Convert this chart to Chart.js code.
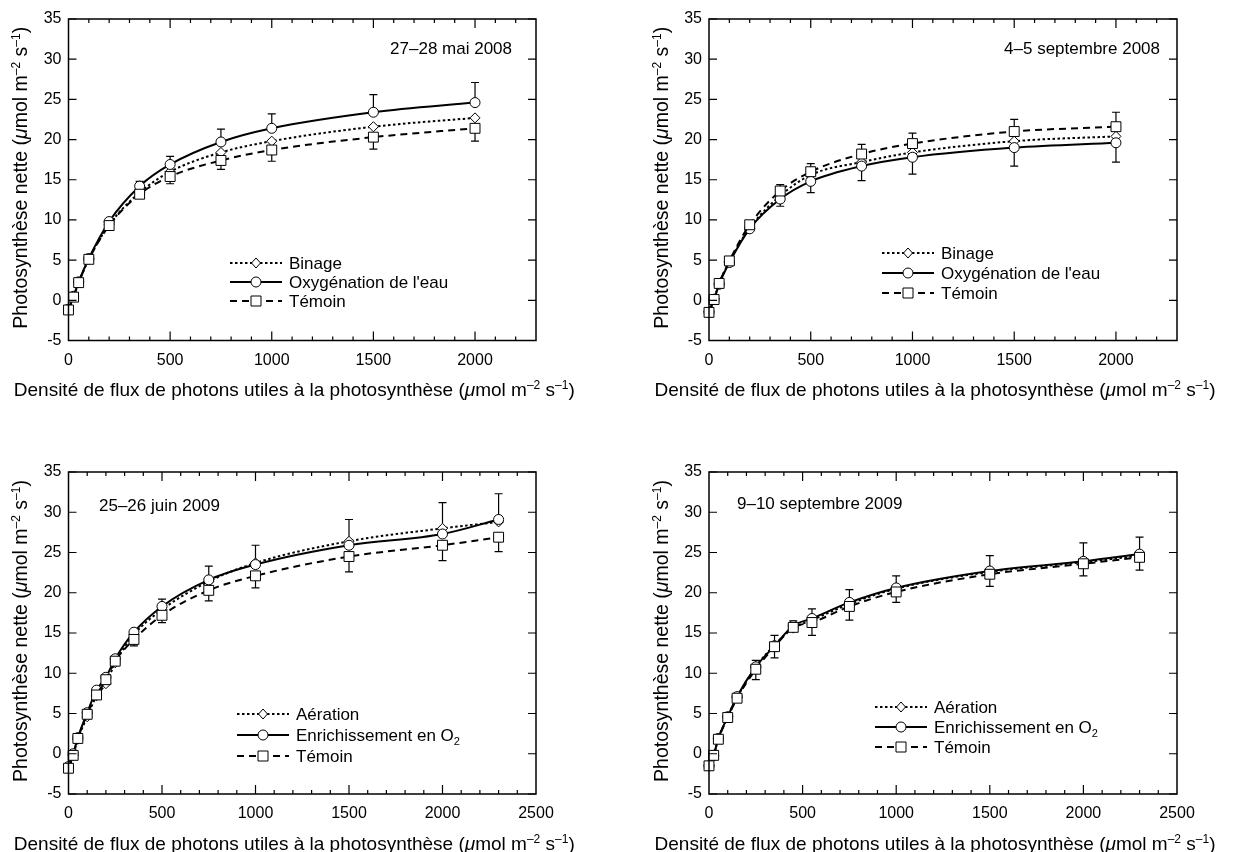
<!DOCTYPE html>
<html>
<head>
<meta charset="utf-8">
<script src="https://cdn.jsdelivr.net/npm/chart.js@4"></script>
<style>
  body { margin: 0; background: #fff; }
  canvas { position: absolute; }
</style>
</head>
<body>
<canvas id="c1" width="622" height="426" style="left:0;top:0"></canvas>
<canvas id="c2" width="622" height="426" style="left:622px;top:0"></canvas>
<canvas id="c3" width="622" height="426" style="left:0;top:426px"></canvas>
<canvas id="c4" width="622" height="426" style="left:622px;top:426px"></canvas>
<script>
// 27-28 mai 2008
const xMai08 = [0, 25, 50, 100, 200, 350, 500, 750, 1000, 1500, 2000];
const binageMai08 = [-1.2, 0.4, 2.2, 5.1, 9.4, 13.4, 16.0, 18.4, 19.8, 21.6, 22.7];
const oxyMai08 = [-1.1, 0.5, 2.3, 5.2, 9.8, 14.2, 16.9, 19.7, 21.4, 23.4, 24.6];
const temoinMai08 = [-1.2, 0.4, 2.2, 5.1, 9.3, 13.2, 15.4, 17.4, 18.7, 20.3, 21.4];
const oxyErrMai08 = [null, null, null, null, null, 0.6, 1.0, 1.6, 1.8, 2.2, 2.5];
const temoinErrMai08 = [null, null, null, null, null, null, 0.9, 1.1, 1.4, 1.5, 1.6];

// 4-5 septembre 2008
const xSep08 = [0, 25, 50, 100, 200, 350, 500, 750, 1000, 1500, 2000];
const binageSep08 = [-1.4, 0.2, 2.1, 4.8, 9.0, 13.0, 15.6, 17.2, 18.4, 19.8, 20.4];
const oxySep08 = [-1.5, 0.1, 2.0, 4.7, 8.9, 12.6, 14.8, 16.7, 17.8, 19.0, 19.6];
const temoinSep08 = [-1.5, 0.1, 2.1, 4.9, 9.4, 13.6, 16.0, 18.2, 19.5, 21.0, 21.6];
const oxyErrSep08 = [null, null, null, null, null, 0.9, 1.4, 1.8, 2.1, 2.3, 2.4];
const temoinErrSep08 = [null, null, null, null, null, 0.8, 1.0, 1.2, 1.3, 1.5, 1.8];

// 25-26 juin 2009
const xJun09 = [0, 25, 50, 100, 150, 200, 250, 350, 500, 750, 1000, 1500, 2000, 2300];
const aerationJun09 = [-1.7, -0.2, 1.8, 4.6, 7.2, 8.7, 11.3, 14.8, 17.9, 21.4, 23.7, 26.4, 28.0, 28.8];
const enrichJun09 = [-1.6, 0.0, 2.0, 5.1, 7.9, 9.5, 11.8, 15.1, 18.3, 21.6, 23.5, 25.9, 27.3, 29.1];
const temoinJun09 = [-1.8, -0.2, 1.9, 4.9, 7.3, 9.2, 11.5, 14.2, 17.2, 20.3, 22.1, 24.5, 25.9, 26.9];
const enrichErrJun09 = [null, null, null, null, null, null, null, null, 0.9, 1.7, 2.4, 3.2, 3.9, 3.2];
const temoinErrJun09 = [null, null, null, null, null, null, null, 0.8, 0.9, 1.3, 1.5, 1.9, 1.9, 1.8];

// 9-10 septembre 2009
const xSep09 = [0, 25, 50, 100, 150, 250, 350, 450, 550, 750, 1000, 1500, 2000, 2300];
const aerationSep09 = [-1.5, -0.2, 1.9, 4.6, 7.0, 10.8, 13.5, 15.6, 16.6, 18.6, 20.5, 22.6, 23.8, 24.6];
const enrichSep09 = [-1.5, -0.2, 1.9, 4.6, 7.1, 10.8, 13.4, 15.9, 16.8, 18.8, 20.6, 22.7, 23.9, 24.8];
const temoinSep09 = [-1.5, -0.2, 1.8, 4.5, 6.9, 10.5, 13.3, 15.7, 16.3, 18.3, 20.1, 22.3, 23.6, 24.4];
const enrichErrSep09 = [null, null, null, null, null, 0.8, 1.3, 0.6, 1.2, 1.6, 1.5, 1.9, 2.3, 2.1];
const temoinErrSep09 = [null, null, null, null, null, 1.3, 1.4, null, 1.6, 1.7, 1.3, 1.5, 1.5, 1.6];

// graduations
const xTicks2008 = [0, 500, 1000, 1500, 2000];
const xTicks2009 = [0, 500, 1000, 1500, 2000, 2500];
const yTicks = [-5, 0, 5, 10, 15, 20, 25, 30, 35];

const FONT = '"Liberation Sans", Arial, Helvetica, sans-serif';
Chart.defaults.font.family = FONT;
Chart.defaults.color = '#000';

// styles des trois traitements
const dotted = { dash: [2.5, 2.5], marker: 'diamond' };
const solid = { dash: [], marker: 'circle' };
const dashed = { dash: [7, 5], marker: 'square' };

const yTitle = [['Photosynthèse nette ('], ['\u03bc', 'i'], ['mol m'], ['\u20132', 'sup'], [' s'], ['\u20131', 'sup'], [')']];
const xTitle = [['Densité de flux de photons utiles à la photosynthèse ('], ['\u03bc', 'i'], ['mol m'], ['\u20132', 'sup'], [' s'], ['\u20131', 'sup'], [')']];

const panels = [
  {
    id: 'c1', x: xMai08, xMax: 2300, xTicks: xTicks2008,
    series: [
      { name: [['Binage']], y: binageMai08, err: null, dir: 0, st: dotted },
      { name: [["Oxygénation de l'eau"]], y: oxyMai08, err: oxyErrMai08, dir: 1, st: solid },
      { name: [['Témoin']], y: temoinMai08, err: temoinErrMai08, dir: -1, st: dashed }
    ],
    date: '27–28 mai 2008', dateAlign: 'right', datePos: [512, 48],
    area: { l: 68.5, t: 19, r: 536, b: 340.5 }, legend: [230, 263, 19], yTitleX: 20
  },
  {
    id: 'c2', x: xSep08, xMax: 2300, xTicks: xTicks2008,
    series: [
      { name: [['Binage']], y: binageSep08, err: null, dir: 0, st: dotted },
      { name: [["Oxygénation de l'eau"]], y: oxySep08, err: oxyErrSep08, dir: -1, st: solid },
      { name: [['Témoin']], y: temoinSep08, err: temoinErrSep08, dir: 1, st: dashed }
    ],
    date: '4–5 septembre 2008', dateAlign: 'right', datePos: [538, 48],
    area: { l: 87, t: 19, r: 555, b: 340.5 }, legend: [260, 253, 20], yTitleX: 39
  },
  {
    id: 'c3', x: xJun09, xMax: 2500, xTicks: xTicks2009,
    series: [
      { name: [['Aération']], y: aerationJun09, err: null, dir: 0, st: dotted },
      { name: [['Enrichissement en O'], ['2', 'sub']], y: enrichJun09, err: enrichErrJun09, dir: 1, st: solid },
      { name: [['Témoin']], y: temoinJun09, err: temoinErrJun09, dir: -1, st: dashed }
    ],
    date: '25–26 juin 2009', dateAlign: 'left', datePos: [99, 79],
    area: { l: 68.5, t: 46, r: 536, b: 368 }, legend: [237, 288, 21], yTitleX: 20
  },
  {
    id: 'c4', x: xSep09, xMax: 2500, xTicks: xTicks2009,
    series: [
      { name: [['Aération']], y: aerationSep09, err: null, dir: 0, st: dotted },
      { name: [['Enrichissement en O'], ['2', 'sub']], y: enrichSep09, err: enrichErrSep09, dir: 1, st: solid },
      { name: [['Témoin']], y: temoinSep09, err: temoinErrSep09, dir: -1, st: dashed }
    ],
    date: '9–10 septembre 2009', dateAlign: 'left', datePos: [115, 77],
    area: { l: 87, t: 46, r: 555, b: 368 }, legend: [253, 281, 20], yTitleX: 39
  }
];

// texte avec exposants / indices / italique
function runFont(kind, size) {
  if (kind === 'sup' || kind === 'sub') return Math.round(size * 0.62) + 'px ' + FONT;
  if (kind === 'i') return 'italic ' + size + 'px ' + FONT;
  return size + 'px ' + FONT;
}
function richWidth(ctx, runs, size) {
  let w = 0;
  runs.forEach(r => { ctx.font = runFont(r[1], size); w += ctx.measureText(r[0]).width; });
  return w;
}
function drawRich(ctx, runs, x, y, size, align) {
  let cx = x;
  if (align === 'center') cx = x - richWidth(ctx, runs, size) / 2;
  if (align === 'right') cx = x - richWidth(ctx, runs, size);
  ctx.textBaseline = 'alphabetic';
  ctx.textAlign = 'left';
  const base = y + size * 0.36;
  runs.forEach(r => {
    ctx.font = runFont(r[1], size);
    let dy = 0;
    if (r[1] === 'sup') dy = -size * 0.38;
    if (r[1] === 'sub') dy = size * 0.22;
    ctx.fillText(r[0], cx, base + dy);
    cx += ctx.measureText(r[0]).width;
  });
}

function drawMarker(ctx, kind, x, y) {
  ctx.save();
  ctx.setLineDash([]);
  ctx.lineWidth = 1;
  ctx.fillStyle = '#fff';
  ctx.strokeStyle = '#000';
  ctx.beginPath();
  if (kind === 'square') ctx.rect(x - 5, y - 5, 10, 10);
  if (kind === 'circle') ctx.arc(x, y, 5, 0, Math.PI * 2);
  if (kind === 'diamond') { ctx.moveTo(x, y - 5); ctx.lineTo(x + 4.5, y); ctx.lineTo(x, y + 5); ctx.lineTo(x - 4.5, y); ctx.closePath(); }
  ctx.fill();
  ctx.stroke();
  ctx.restore();
}

const errorBars = {
  id: 'errorBars',
  beforeDatasetsDraw(chart) {
    const ctx = chart.ctx;
    const ys = chart.scales.y;
    ctx.save();
    ctx.strokeStyle = '#000';
    ctx.lineWidth = 1.2;
    chart.data.datasets.forEach((ds, i) => {
      if (!ds.err) return;
      const meta = chart.getDatasetMeta(i);
      meta.data.forEach((pt, j) => {
        const e = ds.err[j];
        if (e == null) return;
        const y1 = ys.getPixelForValue(ds.data[j].y + ds.dir * e);
        ctx.beginPath();
        ctx.moveTo(pt.x, pt.y);
        ctx.lineTo(pt.x, y1);
        ctx.moveTo(pt.x - 4, y1);
        ctx.lineTo(pt.x + 4, y1);
        ctx.stroke();
      });
    });
    ctx.restore();
  }
};

const frame = {
  id: 'frame',
  afterDraw(chart) {
    const ctx = chart.ctx;
    const a = chart.chartArea;
    const xs = chart.scales.x, ys = chart.scales.y;
    const p = chart.config.options.plugins.frame.panel;
    ctx.save();
    ctx.strokeStyle = '#000';
    ctx.lineWidth = 1.5;
    ctx.setLineDash([]);
    ctx.strokeRect(a.left, a.top, a.right - a.left, a.bottom - a.top);
    ctx.lineWidth = 1.2;
    ctx.beginPath();
    for (let v = 100; v < xs.max; v += 100) {
      const px = xs.getPixelForValue(v);
      const len = v % 500 === 0 ? 9 : 4;
      ctx.moveTo(px, a.bottom); ctx.lineTo(px, a.bottom - len);
      ctx.moveTo(px, a.top); ctx.lineTo(px, a.top + len);
    }
    yTicks.forEach(v => {
      const py = ys.getPixelForValue(v);
      ctx.moveTo(a.left, py); ctx.lineTo(a.left + 8, py);
      ctx.moveTo(a.right, py); ctx.lineTo(a.right - 8, py);
    });
    ctx.stroke();

    // titres des axes
    ctx.fillStyle = '#000';
    drawRich(ctx, xTitle, (a.left + a.right) / 2 - 8, a.bottom + 49, 19, 'center');
    ctx.save();
    ctx.translate(p.yTitleX, (a.top + a.bottom) / 2 - 2);
    ctx.rotate(-Math.PI / 2);
    drawRich(ctx, yTitle, 0, 0, 19.5, 'center');
    ctx.restore();

    // date
    drawRich(ctx, [[p.date]], p.datePos[0], p.datePos[1], 17, p.dateAlign);

    // légende
    const [lx, ly, dy] = p.legend;
    p.series.forEach((s, i) => {
      const y = ly + i * dy;
      ctx.lineWidth = 2;
      ctx.setLineDash(s.st.dash);
      ctx.beginPath();
      ctx.moveTo(lx, y); ctx.lineTo(lx + 52, y);
      ctx.stroke();
      drawMarker(ctx, s.st.marker, lx + 26, y);
      drawRich(ctx, s.name, lx + 59, y, 17, 'left');
    });
    ctx.restore();
  }
};

const pointStyles = { square: 'rect', circle: 'circle', diamond: 'rectRot' };
const pointRadius = { square: 7, circle: 5, diamond: 5 };

panels.forEach(p => {
  const cv = document.getElementById(p.id);
  const W = cv.width, H = cv.height, a = p.area;
  const datasets = p.series.map((s, i) => ({
    label: s.name.map(r => r[0]).join(''),
    data: p.x.map((x, j) => ({ x: x, y: s.y[j] })),
    err: s.err,
    dir: s.dir,
    order: 2 - i,
    borderColor: '#000',
    borderWidth: 2,
    borderDash: s.st.dash,
    cubicInterpolationMode: 'monotone',
    fill: false,
    clip: false,
    pointStyle: pointStyles[s.st.marker],
    pointRadius: pointRadius[s.st.marker],
    pointBackgroundColor: '#fff',
    pointBorderColor: '#000',
    pointBorderWidth: 1
  }));

  new Chart(cv, {
    type: 'line',
    data: { datasets: datasets },
    options: {
      responsive: false,
      animation: false,
      layout: { padding: { left: 0, top: a.t, right: W - a.r, bottom: H - a.b - 30 } },
      plugins: {
        legend: { display: false },
        tooltip: { enabled: false },
        frame: { panel: p }
      },
      scales: {
        x: {
          type: 'linear', min: 0, max: p.xMax,
          grid: { display: false, drawTicks: false },
          border: { display: false },
          afterBuildTicks: s => { s.ticks = p.xTicks.map(v => ({ value: v })); },
          ticks: { padding: 10, maxRotation: 0, autoSkip: false, font: { size: 16 }, color: '#000', callback: v => String(v) },
          afterFit: s => { s.height = 30; }
        },
        y: {
          min: -5, max: 35,
          grid: { display: false, drawTicks: false },
          border: { display: false },
          afterBuildTicks: s => { s.ticks = yTicks.map(v => ({ value: v })); },
          ticks: { padding: 7, font: { size: 16 }, color: '#000', callback: v => String(v) },
          afterFit: s => { s.width = a.l; }
        }
      }
    },
    plugins: [errorBars, frame]
  });
});
</script>
</body>
</html>
